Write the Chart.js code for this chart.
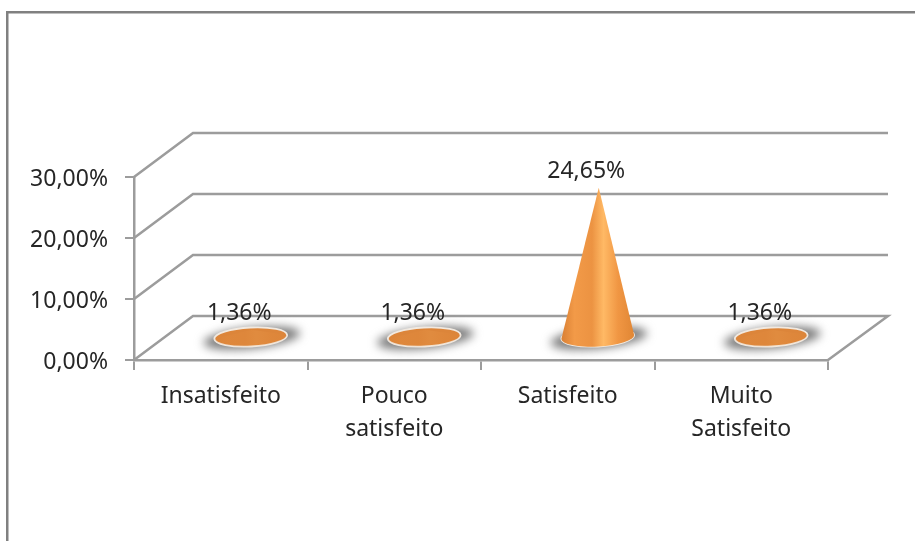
<!DOCTYPE html>
<html>
<head>
<meta charset="utf-8">
<style>
    html, body { margin: 0; padding: 0; background: #fff; }
    canvas { display: block; filter: blur(0.5px); }
</style>
<script src="https://cdn.jsdelivr.net/npm/chart.js@4"></script>
</head>
<body>
<canvas id="myChart" width="915" height="541"></canvas>
<script>
var categories = [['Insatisfeito'], ['Pouco', 'satisfeito'], ['Satisfeito'], ['Muito', 'Satisfeito']];
var values = [1.36, 1.36, 24.65, 1.36];
var yMin = 0;
var yMax = 30;
var yStep = 10;

var fontName = '"Noto Sans", sans-serif';
var textColor = '#262626';
var lineColor = '#9c9c9c';
var frameColor = '#808080';
var depthX = 59;
var depthY = 44;

function pct(v) {
    return v.toFixed(2).replace('.', ',') + '%';
}

// Sciany i podloga "3D" rysowane ze skali Y
var wallsPlugin = {
    id: 'walls',
    beforeDraw: function (chart) {
        var ctx = chart.ctx;
        ctx.save();
        ctx.fillStyle = '#fff';
        ctx.fillRect(0, 0, chart.width, chart.height);
        ctx.fillStyle = frameColor;
        ctx.fillRect(6, 11, 2.5, chart.height - 11);
        ctx.fillRect(6, 11, chart.width - 6, 2.5);
        ctx.restore();
    },
    beforeDatasetsDraw: function (chart) {
        var ctx = chart.ctx;
        var area = chart.chartArea;
        var yScale = chart.scales.y;
        ctx.save();
        ctx.strokeStyle = lineColor;
        ctx.lineWidth = 2.5;
        ctx.lineJoin = 'miter';
        for (var v = yMin; v <= yMax; v += yStep) {
            var py = yScale.getPixelForValue(v);
            ctx.beginPath();
            ctx.moveTo(area.left, py);
            ctx.lineTo(area.left + depthX, py - depthY);
            ctx.lineTo(area.right + depthX + 1, py - depthY);
            if (v === yMin) {
                ctx.lineTo(area.right, py);
            }
            ctx.stroke();
        }
        ctx.restore();
    }
};

// Stozki w miejscu slupkow
var conePlugin = {
    id: 'cones',
    afterDatasetsDraw: function (chart) {
        var ctx = chart.ctx;
        var baseAngle = -3 * Math.PI / 180;
        chart.getDatasetMeta(0).data.forEach(function (bar, i) {
            var rx = bar.width / 2;
            var ry = 9.5;
            var cx = bar.x + depthX / 2 + 0.5;
            var cy = bar.base - depthY / 2;
            var tipY = bar.y - depthY / 2;
            var coneH = cy - tipY;

            ctx.save();
            // cien
            ctx.filter = 'blur(5px)';
            ctx.fillStyle = '#7a7a7a';
            ctx.beginPath();
            ctx.ellipse(cx + 1, cy + 1, rx + 12, ry + 1, -6 * Math.PI / 180, 0, Math.PI * 2);
            ctx.fill();
            ctx.filter = 'none';

            // podstawa
            ctx.fillStyle = '#dc853a';
            ctx.strokeStyle = '#f1e9e0';
            ctx.lineWidth = 1.8;
            ctx.beginPath();
            ctx.ellipse(cx, cy, rx, ry, baseAngle, 0, Math.PI * 2);
            ctx.fill();
            ctx.stroke();

            // stozek
            var grad = ctx.createLinearGradient(cx - rx, 0, cx + rx, 0);
            grad.addColorStop(0, '#d97f33');
            grad.addColorStop(0.18, '#f29a48');
            grad.addColorStop(0.42, '#ec9342');
            grad.addColorStop(0.58, '#ffb965');
            grad.addColorStop(0.78, '#f09643');
            grad.addColorStop(1, '#e08634');
            ctx.globalAlpha = Math.min(1, coneH / 60);
            ctx.fillStyle = grad;
            ctx.beginPath();
            ctx.ellipse(cx, cy, rx, ry, baseAngle, 0, Math.PI);
            ctx.lineTo(cx + 1, tipY);
            ctx.closePath();
            ctx.fill();
            ctx.restore();

            // etykieta
            ctx.save();
            ctx.font = '23px ' + fontName;
            ctx.fillStyle = textColor;
            ctx.textAlign = 'center';
            ctx.textBaseline = 'middle';
            ctx.fillText(pct(values[i]), bar.x + 18.5, tipY - 16);
            ctx.restore();
        });
    }
};

new Chart(document.getElementById('myChart'), {
    type: 'bar',
    data: {
        labels: categories,
        datasets: [{
            data: values,
            backgroundColor: 'rgba(0,0,0,0)',
            borderWidth: 0,
            barPercentage: 0.42,
            categoryPercentage: 1
        }]
    },
    options: {
        responsive: false,
        animation: false,
        events: [],
        layout: {
            padding: { left: 30, top: 177, right: 87, bottom: 81 }
        },
        plugins: {
            legend: { display: false },
            title: { display: false },
            tooltip: { enabled: false }
        },
        scales: {
            x: {
                afterFit: function (s) { s.height = 100; },
                grid: {
                    offset: true,
                    drawOnChartArea: false,
                    color: lineColor,
                    lineWidth: 2,
                    tickLength: 10
                },
                border: { display: true, color: lineColor, width: 2.5 },
                ticks: {
                    autoSkip: false,
                    maxRotation: 0,
                    minRotation: 0,
                    padding: 10,
                    color: textColor,
                    font: { family: fontName, size: 23, lineHeight: 1.43 }
                }
            },
            y: {
                min: yMin,
                max: yMax,
                afterFit: function (s) { s.width = 104; },
                grid: {
                    drawOnChartArea: false,
                    color: lineColor,
                    lineWidth: 2,
                    tickLength: 9
                },
                border: { display: true, color: lineColor, width: 2.5 },
                ticks: {
                    stepSize: yStep,
                    padding: 17,
                    labelOffset: 2,
                    color: textColor,
                    font: { family: fontName, size: 23 },
                    callback: function (v) { return pct(v); }
                }
            }
        }
    },
    plugins: [wallsPlugin, conePlugin]
});
</script>
</body>
</html>
